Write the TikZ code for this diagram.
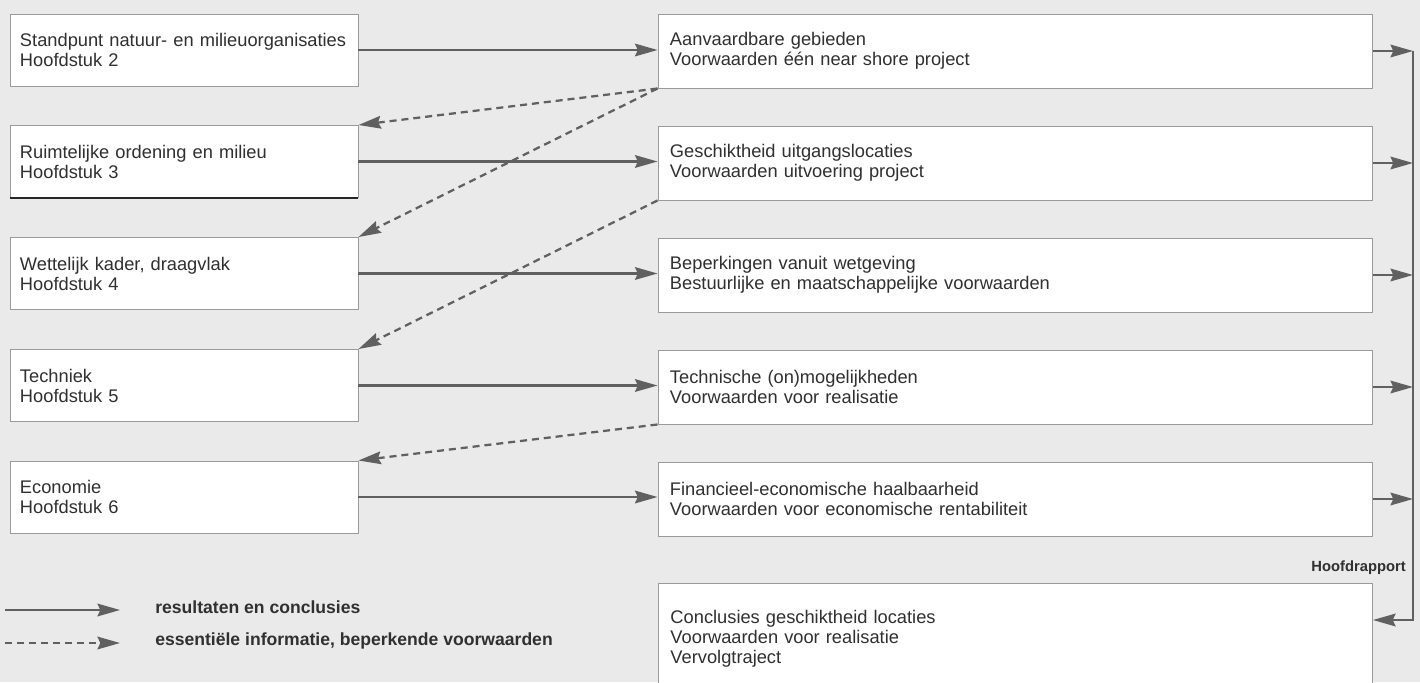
\documentclass[tikz,border=0pt]{standalone}
\usepackage{fontspec}
\setmainfont{Liberation Sans}
\usetikzlibrary{arrows.meta,positioning}

\definecolor{paper}{HTML}{EAEAEA}
\definecolor{linegray}{HTML}{606060}
\definecolor{boxgray}{HTML}{9A9A9A}
\definecolor{inkgray}{HTML}{303030}

\begin{document}
\begin{tikzpicture}[
    x=0.25mm, y=-0.25mm,
    chapter/.style={
        rectangle,
        draw=boxgray,
        line width=0.7pt,
        fill=white,
        minimum width=87mm,
        minimum height=18mm,
        text width=82mm,
        inner xsep=2.5mm,
        align=left,
        text=inkgray,
        font=\fontsize{13}{14.2}\selectfont
    },
    result/.style={
        chapter,
        minimum width=178.5mm,
        minimum height=18.5mm,
        text width=172.5mm,
        inner xsep=3mm
    },
    flow/.style={
        draw=linegray,
        line width=1.6pt,
        -{Stealth[length=16pt,width=9pt,inset=2pt]}
    },
    info/.style={
        flow,
        dash pattern=on 5pt off 3.5pt
    },
    legend/.style={
        font=\fontsize{12.5}{14}\selectfont\bfseries,
        text=inkgray,
        inner sep=0pt
    },
    note/.style={
        font=\fontsize{10.5}{12}\selectfont\bfseries,
        text=inkgray,
        inner sep=0pt
    }
]

% Page background
\fill[paper] (0,0) rectangle (1420,682);
\clip (0,0) rectangle (1420,682);

% Chapters (left column)
\node[chapter] (nat)  at (184,50)    {Standpunt natuur- en milieuorganisaties\\Hoofdstuk 2};
\node[chapter] (ro)   at (184,161.5) {Ruimtelijke ordening en milieu\\Hoofdstuk 3};
\node[chapter] (wet)  at (184,273.5) {Wettelijk kader, draagvlak\\Hoofdstuk 4};
\node[chapter] (tech) at (184,385.5) {Techniek\\Hoofdstuk 5};
\node[chapter] (eco)  at (184,497)   {Economie\\Hoofdstuk 6};

% heavy scan line under the second chapter
\draw[line width=1.6pt, black!85] (ro.south west) -- (ro.south east);

% Results (right column)
\node[result] (gebied)    at (1015,51)  {Aanvaardbare gebieden\\Voorwaarden één near shore project};
\node[result] (locatie)   at (1015,163) {Geschiktheid uitgangslocaties\\Voorwaarden uitvoering project};
\node[result] (wetgeving) at (1015,275) {Beperkingen vanuit wetgeving\\Bestuurlijke en maatschappelijke voorwaarden};
\node[result] (mogelijk)  at (1015,387) {Technische (on)mogelijkheden\\Voorwaarden voor realisatie};
\node[result] (financ)    at (1015,499) {Financieel-economische haalbaarheid\\Voorwaarden voor economische rentabiliteit};

% Main report
\node[note, anchor=east] (hoofd) at (1406,568) {Hoofdrapport};
\node[result, anchor=north west, inner ysep=6.75mm] (rapport) at (658,583)
    {Conclusies geschiktheid locaties\\Voorwaarden voor realisatie\\Vervolgtraject};

% Results and conclusions
\draw[flow] (nat.east)  -- (nat.east -| gebied.west);
\draw[flow] (ro.east)   -- (ro.east -| locatie.west);
\draw[flow] (wet.east)  -- (wet.east -| wetgeving.west);
\draw[flow] (tech.east) -- (tech.east -| mogelijk.west);
\draw[flow] (eco.east)  -- (eco.east -| financ.west);

% Essential information fed back
\draw[info] (gebied.south west)   -- (ro.north east);
\draw[info] (gebied.south west)   -- (wet.north east);
\draw[info] (locatie.south west)  -- (tech.north east);
\draw[info] (mogelijk.south west) -- (eco.north east);

% Collecting line to the main report
\coordinate (bustop) at (1413,51);
\coordinate (busend) at (1413,620);
\foreach \res in {gebied,locatie,wetgeving,mogelijk,financ}
    \draw[flow] (\res.east) -- (\res.east -| bustop);
\draw[flow] (bustop) -- (busend) -- (busend -| rapport.east);

% Legend
\coordinate (solidA)  at (5,610);
\coordinate (solidB)  at (120,610);
\coordinate (dashedA) at (5,643);
\coordinate (dashedB) at (120,643);
\node[legend, anchor=west] (solidtxt)  at (155,607) {resultaten en conclusies};
\node[legend, anchor=west] (dashedtxt) at (155,641) {essentiële informatie, beperkende voorwaarden};
\draw[flow] (solidA)  -- (solidB);
\draw[info] (dashedA) -- (dashedB);

\end{tikzpicture}
\end{document}
